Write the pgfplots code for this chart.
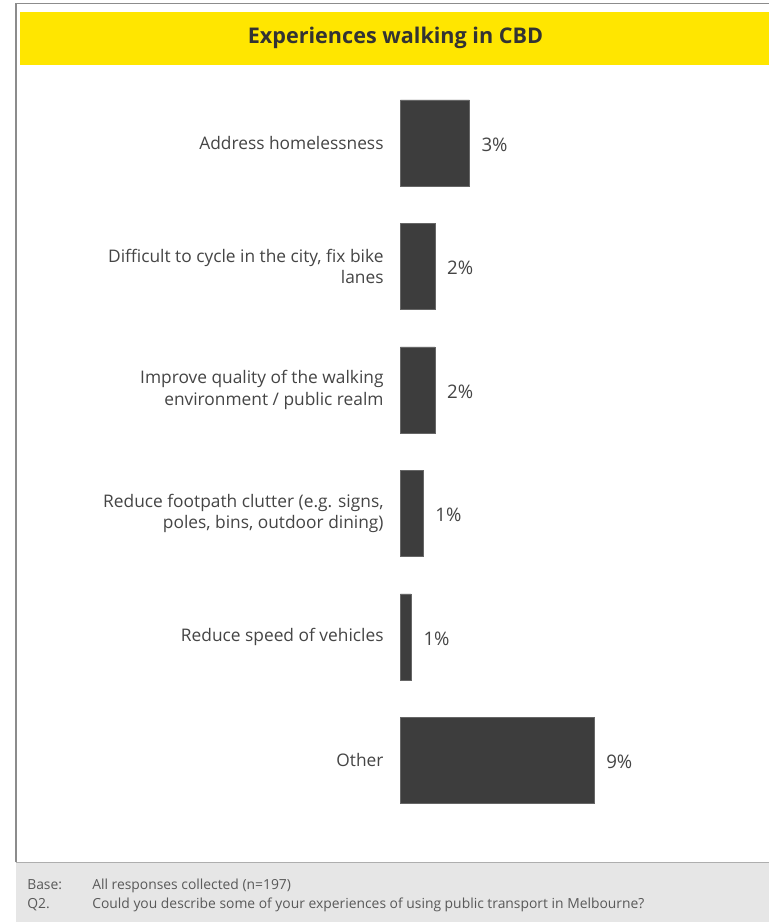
\documentclass[border=0pt]{standalone}
\usepackage{pgfplots}
\pgfplotsset{compat=1.18}
\usepackage{fontspec}
\setmainfont{Open Sans}
\definecolor{eyyellow}{HTML}{FFE600}
\definecolor{bardark}{HTML}{3D3D3D}
\definecolor{txtgrey}{HTML}{454545}
\definecolor{footgrey}{HTML}{E6E6E6}
\definecolor{framegrey}{HTML}{8C8C8C}
\begin{document}
\begin{tikzpicture}[x=0.75pt,y=0.75pt]
\useasboundingbox (0,0) rectangle (769,922);
\fill[white] (0,0) rectangle (769,922);
% footer
\fill[footgrey] (16,0) rectangle (769,59.7);
\draw[framegrey!70, line width=0.9pt] (16,59.7) -- (769,59.7);
\draw[framegrey, line width=0.9pt] (16,59.7) -- (16,918.7) -- (769,918.7);
% title bar
\fill[eyyellow] (20,857) rectangle (769,910.3);
\node[font=\bfseries\fontsize{16.2}{19}\selectfont, text=black!80] at (395.5,884) {Experiences walking in CBD};
% footer text
\begin{scope}[font=\fontsize{10.4}{12}\selectfont, text=black!65]
\node[anchor=base west, inner sep=0pt] at (27,32) {Base:};
\node[anchor=base west, inner sep=0pt] at (92,32) {All responses collected (n=197)};
\node[anchor=base west, inner sep=0pt] at (27,13) {Q2.};
\node[anchor=base west, inner sep=0pt] at (92,13) {Could you describe some of your experiences of using public transport in Melbourne?};
\end{scope}
\coordinate (axpos) at (400.5,840.75);
\begin{axis}[
  at={(axpos)}, anchor=north west,
  scale only axis,
  width=161.25pt, height=555.75pt,
  xbar, bar width=0.7,
  xmin=0, xmax=10,
  ymin=-0.5, ymax=5.5, y dir=reverse,
  axis line style={draw=none},
  xtick=\empty,
  ytick={0,1,2,3,4,5},
  yticklabels={Address homelessness,
    {Difficult to cycle in the city, fix bike\\lanes},
    {Improve quality of the walking\\environment / public realm},
    {Reduce footpath clutter (e.g. signs,\\poles, bins, outdoor dining)},
    Reduce speed of vehicles,
    Other},
  major tick style={draw=none},
  yticklabel style={align=right, anchor=east, inner sep=0pt, xshift=-8.25pt,
    font=\fontsize{13}{16}\selectfont, text=txtgrey},
  point meta=explicit symbolic,
  nodes near coords,
  nodes near coords style={anchor=west, inner sep=0pt, xshift=9pt, yshift=-1.2pt,
    font=\fontsize{14}{16}\selectfont, text=txtgrey},
  clip=false,
]
\addplot[fill=bardark, draw=black!60, line width=0.4pt] table[meta=label] {
x y label
3.2 0 3\%
1.6 1 2\%
1.6 2 2\%
1.05 3 1\%
0.5 4 1\%
9.0 5 9\%
};
\end{axis}
\end{tikzpicture}
\end{document}
